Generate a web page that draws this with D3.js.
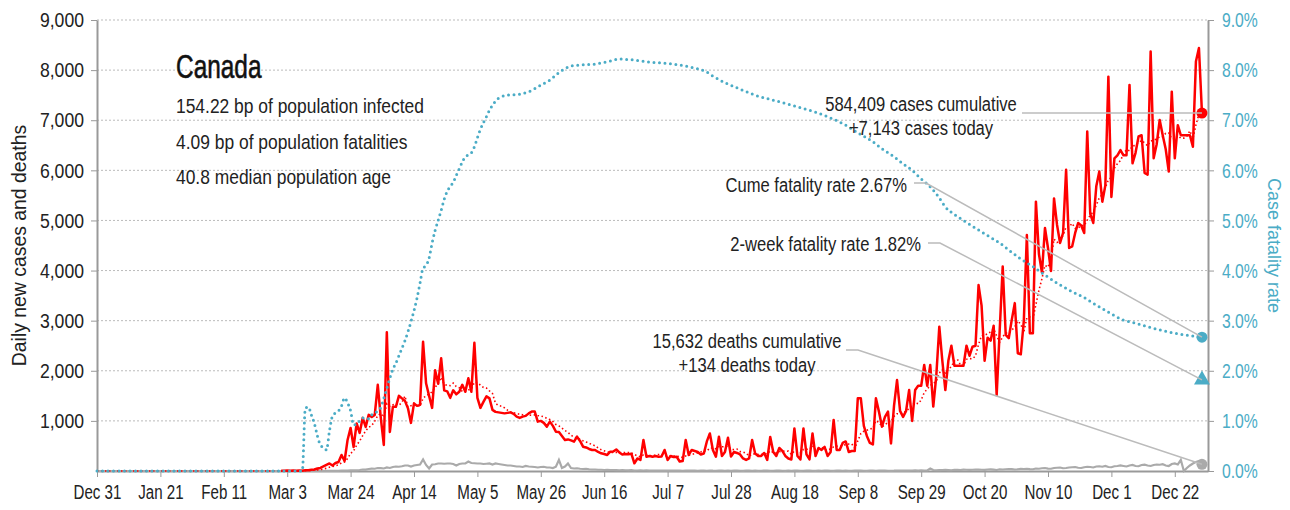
<!doctype html>
<html>
  <head>
    <meta charset="utf-8" />
    <title>Canada cases and deaths</title>
    <script src="https://cdn.jsdelivr.net/npm/d3@7"></script>
    <style>
      body { margin: 0; background: #fff; }
      svg { font-family: "Liberation Sans", Arial, sans-serif; }
      .grid line { stroke: #bbb; stroke-dasharray: 2 2; }
      .axis path, .axis line { stroke: #999; }
      .axis text { font-size: 21px; fill: #222; font-family: "Liberation Sans", Arial, sans-serif; }
      .axis-right text { fill: #4bacc6; }
      .note { font-size: 21px; fill: #222; }
      .leader { fill: none; stroke: #bbb; stroke-width: 1.5px; }
    </style>
  </head>
  <body>
    <div id="chart"></div>
    <script>
      // daily series start on Dec 31, 2019
      var seriesStart = "2019-12-31";
      var solidFrom = "2020-03-01";

      // daily new cases, Dec 31 .. Dec 31
      var cases = [
        0,0,0,0,0,0,0,0,0,0, 0,0,0,0,0,0,0,0,0,0, 0,0,0,0,0,0,0,0,0,0,
        0,0,0,0,0,0,0,0,0,0, 0,0,0,0,0,0,0,0,0,0, 0,0,0,0,0,0,0,0,0,0, 0,
        4,3,8,6,8,5,10,5,15,
        15,25,30,50,60,90,120,150,110,160,
        180,320,200,620,860,480,950,760,1060,880,
        1120,1080,1120,1720,1060,520,2770,780,1280,1280,
        1500,1450,1400,1250,960,1350,1300,1320,2580,1750,
        1500,1260,2010,1740,2250,1610,1590,1460,1610,1530,
        1580,1720,1580,1850,1580,2560,1460,1260,1380,1490,
        1450,1220,1180,1170,1160,1150,1160,1170,1140,1085,
        1060,1085,1100,1150,1185,1185,985,1000,960,885,
        985,900,785,780,700,620,630,610,585,685,
        600,485,470,440,420,420,380,353,340,320,
        385,390,430,370,330,340,335,345,153,250,
        220,620,285,300,285,300,285,290,420,220,
        300,280,285,190,200,620,320,420,400,380,
        330,350,590,750,420,285,685,300,380,665,
        290,380,360,330,250,220,250,620,350,300,
        300,360,220,680,380,300,460,400,300,250,
        230,850,300,230,850,330,230,750,300,460,
        420,480,300,380,1020,420,420,560,590,380,
        400,400,1450,1450,900,700,560,530,1450,1185,
        885,1080,1185,550,1300,1815,1200,1080,1200,1615,
        1000,1615,1700,1700,2115,1700,2115,1285,1900,2880,
        2200,1615,2200,2500,2100,2100,2100,2100,2500,2300,
        2480,2500,3710,3300,2200,2660,2600,2900,1515,2800,
        4080,2715,2650,3015,3350,2350,2330,3000,4710,2750,
        2750,5375,4330,3960,4850,4450,3990,5440,4910,4550,
        4750,6010,4450,4480,4750,4950,4900,4750,6775,5130,
        4950,5680,5975,5375,5700,7870,5470,6240,6300,6405,
        6300,6300,7705,6140,6350,6675,6700,5950,5915,8370,
        6240,6520,7005,6700,6420,5975,7570,6240,6900,6700,
        6700,6700,6700,6470,8170,8440,7143
      ];

      // daily deaths, Dec 31 .. Dec 31
      var deaths = [
        0,0,0,0,0,0,0,0,0,0, 0,0,0,0,0,0,0,0,0,0, 0,0,0,0,0,0,0,0,0,0,
        0,0,0,0,0,0,0,0,0,0, 0,0,0,0,0,0,0,0,0,0, 0,0,0,0,0,0,0,0,0,0, 0,
        0,0,0,0,0,0,0,1,0,
        1,1,2,3,1,4,3,4,5,4,
        4,6,8,6,12,14,12,20,30,28,
        40,48,45,60,58,50,70,60,80,90,
        85,95,110,110,90,110,120,130,230,120,
        50,130,135,150,150,145,150,150,140,110,
        140,150,150,190,160,155,150,150,140,145,
        150,130,150,140,130,120,110,110,100,90,
        90,80,100,90,85,80,70,80,85,70,
        70,60,85,220,60,90,150,60,50,55,
        45,40,45,35,30,30,25,25,20,25,
        20,20,18,15,20,15,12,18,8,10,
        15,10,12,8,10,8,10,6,10,8,
        8,10,6,8,5,10,8,6,8,5,
        6,8,5,10,6,5,8,6,5,8,
        5,6,8,5,4,6,8,5,6,4,
        5,8,6,4,5,6,8,5,4,6,
        5,8,6,4,5,8,6,5,4,6,
        5,6,8,5,4,6,8,5,6,4,
        5,6,8,6,5,4,6,8,5,6,
        6,8,5,4,6,10,8,6,10,8,
        10,12,8,15,10,12,50,20,15,18,
        20,22,18,15,25,22,20,28,25,22,
        25,28,30,25,22,30,32,28,20,35,
        30,35,40,38,30,35,42,40,45,38,
        35,50,45,55,60,48,45,60,65,70,
        55,60,70,75,80,65,60,75,85,80,
        70,90,95,85,100,80,75,95,100,110,
        100,90,110,120,100,95,120,125,110,100,
        120,130,125,135,110,100,140,150,130,220,
        0,60,110,150,180,200,134
      ];

      // cumulative case fatality rate (%), read at these dates
      var rateDates = [
        "2019-12-31","2020-03-07","2020-03-08","2020-03-09","2020-03-10","2020-03-11","2020-03-12",
        "2020-03-13","2020-03-14","2020-03-15","2020-03-16","2020-03-17","2020-03-18","2020-03-19",
        "2020-03-20","2020-03-21","2020-03-22","2020-03-23","2020-03-24","2020-03-25","2020-03-26",
        "2020-03-27","2020-03-28","2020-03-29","2020-03-30","2020-03-31","2020-04-01","2020-04-02",
        "2020-04-03","2020-04-04","2020-04-05","2020-04-06","2020-04-07","2020-04-08","2020-04-09",
        "2020-04-10","2020-04-11","2020-04-12","2020-04-13","2020-04-14","2020-04-15","2020-04-16",
        "2020-04-17","2020-04-18","2020-04-19","2020-04-20","2020-04-21","2020-04-22","2020-04-23",
        "2020-04-24","2020-04-25","2020-04-26","2020-04-27","2020-04-28","2020-04-29","2020-04-30",
        "2020-05-01","2020-05-02","2020-05-03","2020-05-04","2020-05-05","2020-05-06","2020-05-07",
        "2020-05-08","2020-05-09","2020-05-10","2020-05-11","2020-05-12","2020-05-13","2020-05-15",
        "2020-05-19","2020-05-22","2020-05-26","2020-05-29","2020-06-01","2020-06-05","2020-06-08",
        "2020-06-13","2020-06-18","2020-06-21","2020-06-26","2020-07-01","2020-07-06","2020-07-11",
        "2020-07-16","2020-07-20","2020-07-22","2020-07-26","2020-07-31","2020-08-05","2020-08-11",
        "2020-08-16","2020-08-20","2020-08-25","2020-08-29","2020-09-04","2020-09-08","2020-09-13",
        "2020-09-16","2020-09-20","2020-09-23","2020-09-26","2020-09-29","2020-10-02","2020-10-05",
        "2020-10-07","2020-10-10","2020-10-13","2020-10-18","2020-10-22","2020-10-25","2020-10-28",
        "2020-11-01","2020-11-05","2020-11-09","2020-11-13","2020-11-17","2020-11-22","2020-11-26",
        "2020-11-30","2020-12-05","2020-12-09","2020-12-13","2020-12-18","2020-12-22","2020-12-26",
        "2020-12-31"
      ];
      var rateValues = [
        0,0,0,1.25,1.28,1.12,0.95,
        0.7,0.52,0.47,0.42,0.8,1.1,1.16,
        1.2,1.3,1.46,1.36,1.2,0.92,0.93,
        1.0,1.06,1.06,1.04,1.12,1.16,1.2,
        1.27,1.45,1.65,1.85,2.03,2.15,2.3,
        2.45,2.6,2.78,2.98,3.2,3.45,3.75,
        4.05,4.1,4.25,4.55,4.8,5.0,5.2,
        5.42,5.58,5.68,5.76,5.9,6.03,6.17,
        6.27,6.31,6.35,6.47,6.65,6.82,6.95,
        7.07,7.2,7.3,7.38,7.44,7.47,7.5,
        7.52,7.57,7.7,7.8,7.95,8.08,8.1,
        8.12,8.18,8.22,8.2,8.16,8.14,8.1,
        8.04,7.96,7.88,7.75,7.62,7.5,7.4,
        7.32,7.25,7.16,7.07,6.9,6.75,6.57,
        6.43,6.27,6.13,6.0,5.83,5.67,5.45,
        5.27,5.12,5.0,4.81,4.66,4.55,4.41,
        4.23,4.08,3.91,3.75,3.61,3.46,3.31,
        3.17,3.01,2.95,2.88,2.8,2.75,2.71,
        2.67
      ];

      var twoWeekRate = 1.82;
      var xTickDates = ["2019-12-31","2020-01-21","2020-02-11","2020-03-03","2020-03-24","2020-04-14",
                        "2020-05-05","2020-05-26","2020-06-16","2020-07-07","2020-07-28","2020-08-18",
                        "2020-09-08","2020-09-29","2020-10-20","2020-11-10","2020-12-01","2020-12-22"];
      var yTicks = [1000, 2000, 3000, 4000, 5000, 6000, 7000, 8000, 9000];
      var rateTicks = [0, 1, 2, 3, 4, 5, 6, 7, 8, 9];
      var infoLines = ["154.22 bp of population infected", "4.09 bp of population fatalities", "40.8 median population age"];

      var parse = d3.timeParse("%Y-%m-%d");
      var width = 1290, height = 510;
      var margin = {top: 20, right: 82, bottom: 39, left: 97};

      var start = parse(seriesStart);
      var casePts = cases.map(function(v, i) { return {date: d3.timeDay.offset(start, i), value: v}; });
      var deathPts = deaths.map(function(v, i) { return {date: d3.timeDay.offset(start, i), value: v}; });
      // trailing 7-day average of daily cases
      var avgPts = casePts.map(function(d, i) {
        return {date: d.date, value: d3.mean(cases.slice(Math.max(0, i - 6), i + 1))};
      });
      var ratePts = rateDates.map(function(s, i) { return {date: parse(s), value: rateValues[i]}; });

      var x = d3.scaleTime()
                .domain([parse("2019-12-31"), parse("2021-01-02")])
                .range([margin.left, width - margin.right]);
      var y = d3.scaleLinear().domain([0, 9000]).range([height - margin.bottom, margin.top]);
      var yr = d3.scaleLinear().domain([0, 9]).range([height - margin.bottom, margin.top]);

      var svg = d3.select("#chart").append("svg")
                  .attr("width", width)
                  .attr("height", height);

      // condensed look: squeeze text horizontally around its anchor
      function squeeze(sel, px, py, k) {
        return sel.attr("transform", "translate(" + px + "," + py + ") scale(" + k + ",1)");
      }

      svg.append("g").attr("class", "grid")
         .selectAll("line").data(yTicks).enter().append("line")
         .attr("x1", margin.left).attr("x2", width - margin.right)
         .attr("y1", function(d) { return y(d); }).attr("y2", function(d) { return y(d); });

      // axes
      svg.append("g").attr("class", "axis")
         .attr("transform", "translate(0," + (height - margin.bottom) + ")")
         .call(d3.axisBottom(x).tickValues(xTickDates.map(parse)).tickFormat(d3.timeFormat("%b %-d")).tickSize(6).tickSizeOuter(0))
         .call(function(g) {
           g.selectAll("text").attr("y", 13).attr("dy", "0.71em").attr("transform", "scale(0.72,1)");
           g.select(".domain").attr("stroke-width", 2);
         });

      svg.append("g").attr("class", "axis")
         .attr("transform", "translate(" + margin.left + ",0)")
         .call(d3.axisLeft(y).tickValues(yTicks).tickFormat(d3.format(",")).tickSize(6).tickSizeOuter(0))
         .call(function(g) {
           g.selectAll("text").attr("x", -13 / 0.84).attr("transform", "scale(0.84,1)");
           g.select(".domain").attr("stroke-width", 2);
         });

      svg.append("g").attr("class", "axis axis-right")
         .attr("transform", "translate(" + (width - margin.right) + ",0)")
         .call(d3.axisRight(yr).tickValues(rateTicks).tickFormat(function(d) { return d3.format(".1f")(d) + "%"; }).tickSize(6).tickSizeOuter(0))
         .call(function(g) {
           g.selectAll("text").attr("x", 14 / 0.75).attr("transform", "scale(0.75,1)");
           g.select(".domain").attr("stroke-width", 2);
         });

      svg.append("text")
         .attr("transform", "translate(26," + ((height - margin.bottom + margin.top) / 2) + ") rotate(-90) scale(0.97,1)")
         .attr("text-anchor", "middle").style("font-size", "20px").style("fill", "#222")
         .text("Daily new cases and deaths");
      svg.append("text")
         .attr("transform", "translate(1268," + ((height - margin.bottom + margin.top) / 2) + ") rotate(90)")
         .attr("text-anchor", "middle").style("font-size", "18px").style("fill", "#4bacc6")
         .text("Case fatality rate");

      // series
      var line = d3.line().x(function(d) { return x(d.date); }).y(function(d) { return y(d.value); });
      var rateLine = d3.line().x(function(d) { return x(d.date); }).y(function(d) { return yr(d.value); });

      svg.append("path").datum(deathPts)
         .attr("fill", "none").attr("stroke", "#aaa").attr("stroke-width", 2.2).attr("d", line);

      svg.append("path").datum(casePts.filter(function(d) { return d.date >= parse(solidFrom); }))
         .attr("fill", "none").attr("stroke", "#ff0000").attr("stroke-width", 2.5)
         .attr("stroke-linejoin", "round").attr("d", line);

      svg.append("path").datum(avgPts)
         .attr("fill", "none").attr("stroke", "#ff0000").attr("stroke-width", 1.6)
         .attr("stroke-dasharray", "1.5 2.5").attr("d", line);

      svg.append("path").datum(ratePts)
         .attr("fill", "none").attr("stroke", "#4bacc6").attr("stroke-width", 3)
         .attr("stroke-linecap", "round").attr("stroke-dasharray", "0 5.5")
         .attr("d", rateLine.curve(d3.curveMonotoneX));

      // end markers
      var last = casePts[casePts.length - 1];
      var lastX = x(last.date);
      svg.append("circle").attr("cx", lastX).attr("cy", y(last.value)).attr("r", 5.5).attr("fill", "#ff0000");
      svg.append("circle").attr("cx", lastX).attr("cy", yr(rateValues[rateValues.length - 1])).attr("r", 5.5).attr("fill", "#4bacc6");
      svg.append("path").attr("transform", "translate(" + lastX + "," + yr(twoWeekRate) + ")")
         .attr("d", d3.symbol().type(d3.symbolTriangle).size(110)).attr("fill", "#4bacc6");
      svg.append("circle").attr("cx", lastX).attr("cy", y(deaths[deaths.length - 1])).attr("r", 5.5).attr("fill", "#aaa");

      // title block
      squeeze(svg.append("text"), 176, 78, 0.74).style("font-size", "33px").style("fill", "#111")
         .style("stroke", "#111").style("stroke-width", "0.6px").text("Canada");
      infoLines.forEach(function(s, i) {
        squeeze(svg.append("text").attr("class", "note"), 176, 113 + i * 35.5, 0.85)
           .style("font-size", "20.5px").text(s);
      });

      // annotations with leader lines
      var notes = [
        {lines: ["584,409 cases cumulative", "+7,143 cases today"], tx: 921, ty: 111, anchor: "middle",
         lx: 1022, ly: 113, ex: lastX, ey: y(last.value)},
        {lines: ["Cume fatality rate 2.67%"], tx: 907, ty: 192, anchor: "end",
         lx: 914, ly: 183, ex: lastX, ey: yr(rateValues[rateValues.length - 1])},
        {lines: ["2-week fatality rate 1.82%"], tx: 921, ty: 251, anchor: "end",
         lx: 928, ly: 243, ex: lastX, ey: yr(twoWeekRate)},
        {lines: ["15,632 deaths cumulative", "+134 deaths today"], tx: 747, ty: 348, anchor: "middle",
         lx: 846, ly: 350, ex: lastX, ey: y(deaths[deaths.length - 1])}
      ];
      notes.forEach(function(n) {
        var pts = [[n.lx, n.ly], [n.lx + 12, n.ly], [n.ex, n.ey]];
        if (Math.abs(n.ly - n.ey) < 4) pts = [[n.lx, n.ly], [n.ex, n.ey]];
        svg.append("path").attr("class", "leader").attr("d", d3.line()(pts));
        var t = squeeze(svg.append("text").attr("class", "note").attr("text-anchor", n.anchor), n.tx, n.ty, 0.79);
        n.lines.forEach(function(s, i) {
          t.append("tspan").attr("x", 0).attr("y", i * 24.5).text(s);
        });
      });
    </script>
  </body>
</html>
